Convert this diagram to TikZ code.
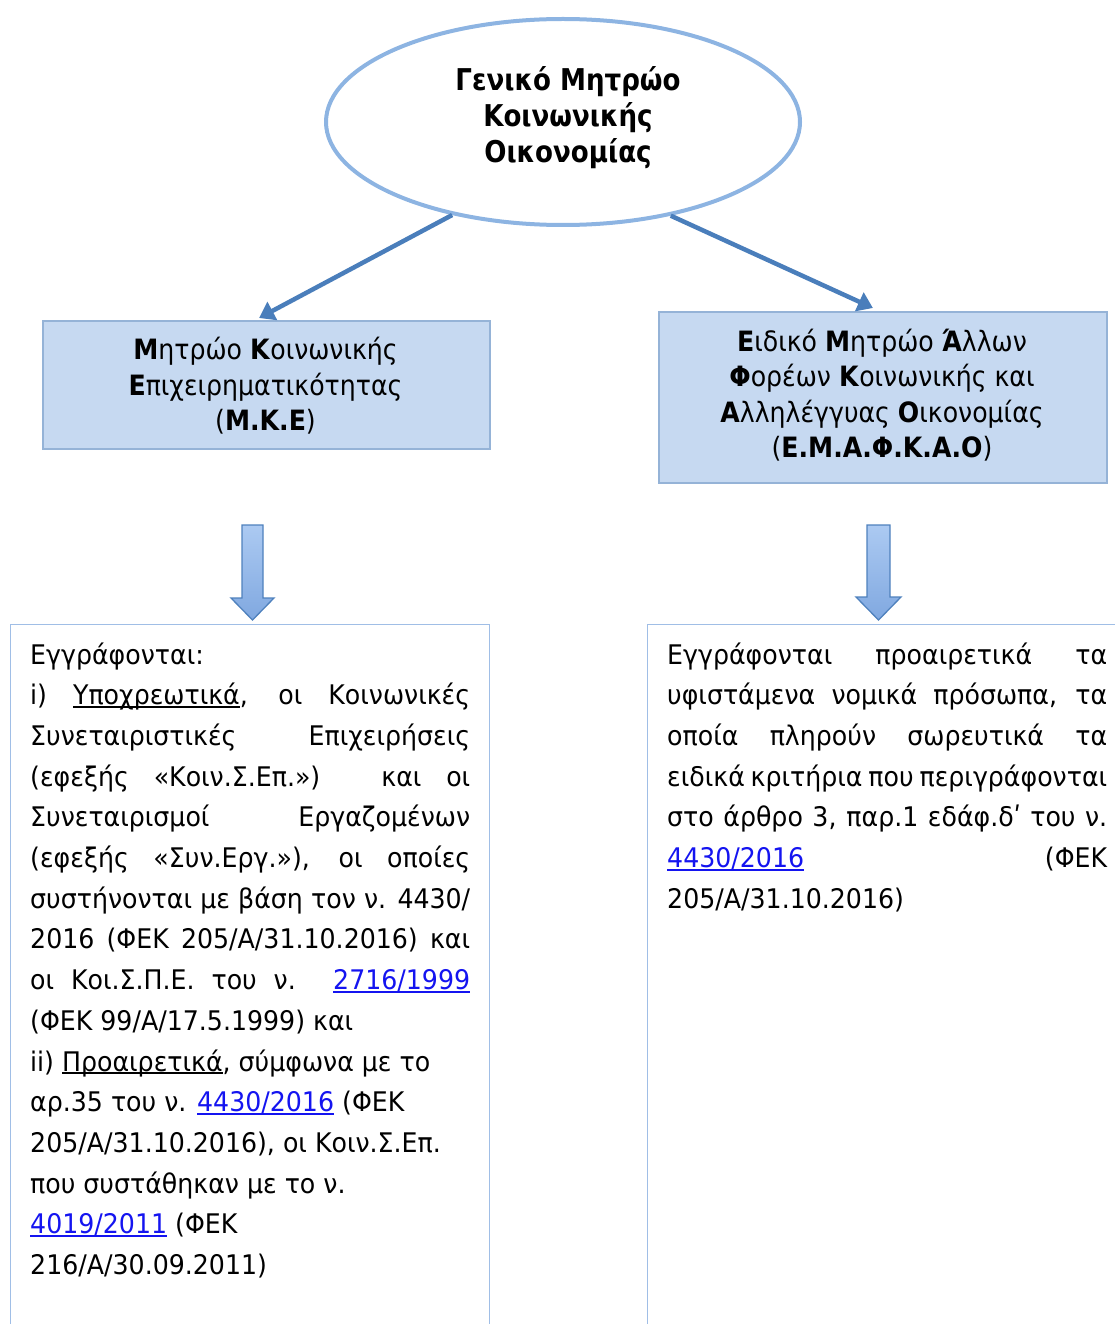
\documentclass[tikz,border=0pt]{standalone}
\usepackage{fontspec}
\setmainfont{DejaVu Sans}[FakeStretch=0.935]
\newfontfamily\ellfont{DejaVu Sans}[FakeStretch=0.87]
\newfontfamily\regfont{DejaVu Sans}[FakeStretch=0.9]
\usetikzlibrary{shapes.geometric,arrows.meta,calc}
\definecolor{ellblue}{RGB}{141,180,226}
\definecolor{boxfill}{RGB}{198,217,241}
\definecolor{boxline}{RGB}{149,179,215}
\definecolor{connblue}{RGB}{74,126,187}
\definecolor{arrtop}{RGB}{172,202,242}
\definecolor{arrbot}{RGB}{128,168,224}
\definecolor{arrline}{RGB}{79,129,189}
\definecolor{txtline}{RGB}{160,190,230}
\definecolor{linkblue}{RGB}{20,20,240}
\newcommand\myul[1]{\setbox0\hbox{#1}\rlap{\rule[-3pt]{\wd0}{1.6pt}}\box0}
\newcommand\mylink[1]{\textcolor{linkblue}{\myul{#1}}}
\newcommand\jl[1]{\makebox[440pt][s]{#1}}
\tikzset{
  ellstyle/.style={ellipse, draw=ellblue, line width=4pt, fill=white, minimum width=474pt, minimum height=206pt, inner sep=0pt},
  elltext/.style={font=\fontsize{30}{36}\selectfont\ellfont\bfseries, align=center, inner sep=0pt},
  regbox/.style={draw=boxline, line width=1.6pt, fill=boxfill, inner sep=0pt},
  regtext/.style={font=\fontsize{28}{35.5}\selectfont\regfont, align=center, inner sep=0pt},
  conn/.style={draw=connblue, line width=4.5pt, -{Triangle[length=15pt,width=20pt]}},
  blockarrow/.style={draw=arrline, line width=1.3pt, top color=arrtop, bottom color=arrbot},
  txtbox/.style={draw=txtline, line width=1.3pt, inner sep=0pt, anchor=north west},
  tl/.style={font=\fontsize{27}{40.7}\selectfont, inner sep=0pt, anchor=base west},
}
\begin{document}
\begin{tikzpicture}[x=1pt,y=-1pt]
\useasboundingbox (0,0) rectangle (1114,1324);
% top ellipse
\node[ellstyle] (ell) at (563,122) {};
\node[elltext] (ellt) at (568,118) {Γενικό Μητρώο\\Κοινωνικής\\Οικονομίας};
% registry boxes
\node[regbox, minimum width=447pt, minimum height=128pt, anchor=north west] (mke) at (42,320) {};
\node[regtext] (mket) at (265.5,386) {\textbf{Μ}ητρώο \textbf{Κ}οινωνικής\\\textbf{Ε}πιχειρηματικότητας\\(\textbf{Μ.Κ.Ε})};
\node[regbox, minimum width=448pt, minimum height=171pt, anchor=north west] (emak) at (658,311) {};
\node[regtext] (emakt) at (882,395) {\textbf{Ε}ιδικό \textbf{Μ}ητρώο \textbf{Ά}λλων\\\textbf{Φ}ορέων \textbf{Κ}οινωνικής και\\\textbf{Α}λληλέγγυας \textbf{Ο}ικονομίας\\(\textbf{Ε.Μ.Α.Φ.Κ.Α.Ο})};
% connectors
\draw[conn] (ell.220) -- ($(mke.north west)!0.484!(mke.north east)+(0,-2)$);
\draw[conn] (ell.319) -- ($(emak.north west)!0.478!(emak.north east)+(0,-3)$);
% block arrows
\draw[blockarrow] (242,525) -- (263,525) -- (263,598) -- (274,598) -- (252.5,620) -- (231,598) -- (242,598) -- cycle;
\draw[blockarrow] (867,525) -- (890,525) -- (890,597) -- (901,597) -- (878.5,620) -- (856,597) -- (867,597) -- cycle;
% text boxes
\node[txtbox, minimum width=479pt, minimum height=720pt] (lbox) at (10,624) {};
\node[txtbox, minimum width=480pt, minimum height=720pt] (rbox) at (647,624) {};
% left text
\node[tl] (L1) at (30,664) {Εγγράφονται:};
\node[tl] (L2) at (30,704.7) {\jl{i) \myul{Υποχρεωτικά}, οι Κοινωνικές}};
\node[tl] (L3) at (30,745.4) {\jl{Συνεταιριστικές Επιχειρήσεις}};
\node[tl] (L4) at (30,786.1) {\jl{(εφεξής «Κοιν.Σ.Επ.») και οι}};
\node[tl] (L5) at (30,826.8) {\jl{Συνεταιρισμοί Εργαζομένων}};
\node[tl] (L6) at (30,867.5) {\jl{(εφεξής «Συν.Εργ.»), οι οποίες}};
\node[tl] (L7) at (30,908.2) {\jl{συστήνονται με βάση τον ν. 4430/}};
\node[tl] (L8) at (30,948.9) {\jl{2016 (ΦΕΚ 205/Α/31.10.2016) και}};
\node[tl] (L9) at (30,989.6) {\jl{οι Κοι.Σ.Π.Ε. του ν. \mylink{2716/1999}}};
\node[tl] (L10) at (30,1030.3) {(ΦΕΚ 99/Α/17.5.1999) και};
\node[tl] (L11) at (30,1071) {ii) \myul{Προαιρετικά}, σύμφωνα με το};
\node[tl] (L12) at (30,1111.7) {αρ.35 του ν. \mylink{4430/2016} (ΦΕΚ};
\node[tl] (L13) at (30,1152.4) {205/Α/31.10.2016), οι Κοιν.Σ.Επ.};
\node[tl] (L14) at (30,1193.1) {που συστάθηκαν με το ν.};
\node[tl] (L15) at (30,1233.8) {\mylink{4019/2011} (ΦΕΚ};
\node[tl] (L16) at (30,1274.5) {216/Α/30.09.2011)};
% right text
\node[tl] (R1) at (667,664) {\jl{Εγγράφονται προαιρετικά τα}};
\node[tl] (R2) at (667,704.7) {\jl{υφιστάμενα νομικά πρόσωπα, τα}};
\node[tl] (R3) at (667,745.4) {\jl{οποία πληρούν σωρευτικά τα}};
\node[tl] (R4) at (667,786.1) {\jl{ειδικά κριτήρια που περιγράφονται}};
\node[tl] (R5) at (667,826.8) {\jl{στο άρθρο 3, παρ.1 εδάφ.δʹ του ν.}};
\node[tl] (R6) at (667,867.5) {\jl{\mylink{4430/2016} (ΦΕΚ}};
\node[tl] (R7) at (667,908.2) {205/Α/31.10.2016)};
\end{tikzpicture}
\end{document}
